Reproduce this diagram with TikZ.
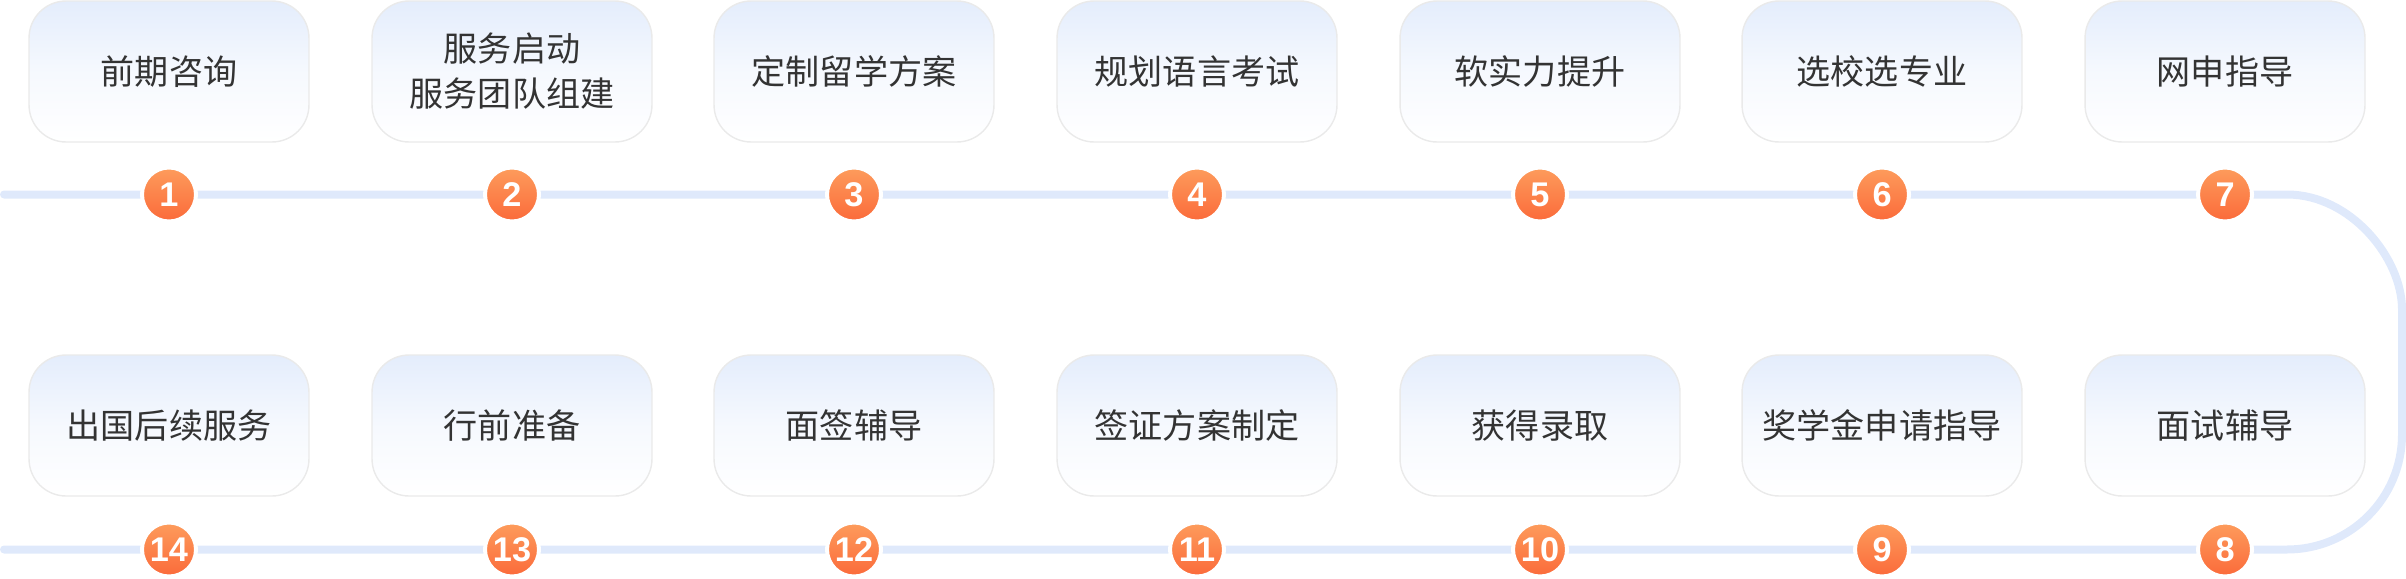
\documentclass[tikz,border=0pt]{standalone}
\usepackage{fontspec}
\setmainfont{Noto Sans CJK SC}
\newfontfamily\numfont{Liberation Sans}
\usetikzlibrary{backgrounds}

\definecolor{trackblue}{HTML}{DFE9FB}
\definecolor{boxtop}{HTML}{E4EDFC}
\definecolor{boxline}{HTML}{EAEAEA}
\definecolor{dottop}{HTML}{FD9C5C}
\definecolor{dotbottom}{HTML}{FB6A3A}
\definecolor{textgray}{HTML}{333333}

\tikzset{
	stepbox/.style={rounded corners=0.74cm, draw=boxline, line width=0.8pt,
		top color=boxtop, bottom color=white, middle color=boxtop!35,
		minimum width=5.6cm, minimum height=2.82cm, align=center,
		text=textgray, font=\fontsize{19.4}{25.6}\selectfont},
	stepnum/.style={circle, minimum size=1.08cm, inner sep=0pt, draw=white,
		line width=0.08cm, top color=dottop, bottom color=dotbottom,
		text=white, font=\numfont\bfseries\fontsize{19.5}{19.5}\selectfont},
	track/.style={draw=trackblue, line width=0.16cm, line cap=round}
}

\begin{document}
\begin{tikzpicture}[x=0.02cm, y=-0.02cm]
	\useasboundingbox (0,0) rectangle (2406,578);
	% top row
	\node[stepbox] (b1) at (169,71.5) {前期咨询};
	\node[stepbox] (b2) at (512,71.5) {服务启动\\服务团队组建};
	\node[stepbox] (b3) at (854,71.5) {定制留学方案};
	\node[stepbox] (b4) at (1197,71.5) {规划语言考试};
	\node[stepbox] (b5) at (1540,71.5) {软实力提升};
	\node[stepbox] (b6) at (1882,71.5) {选校选专业};
	\node[stepbox] (b7) at (2225,71.5) {网申指导};
	\node[stepnum] (n1) at (169,194.5) {1};
	\node[stepnum] (n2) at (512,194.5) {2};
	\node[stepnum] (n3) at (854,194.5) {3};
	\node[stepnum] (n4) at (1197,194.5) {4};
	\node[stepnum] (n5) at (1540,194.5) {5};
	\node[stepnum] (n6) at (1882,194.5) {6};
	\node[stepnum] (n7) at (2225,194.5) {7};
	% bottom row
	\node[stepbox] (b8) at (2225,425.5) {面试辅导};
	\node[stepbox] (b9) at (1882,425.5) {奖学金申请指导};
	\node[stepbox] (b10) at (1540,425.5) {获得录取};
	\node[stepbox] (b11) at (1197,425.5) {签证方案制定};
	\node[stepbox] (b12) at (854,425.5) {面签辅导};
	\node[stepbox] (b13) at (512,425.5) {行前准备};
	\node[stepbox] (b14) at (169,425.5) {出国后续服务};
	\node[stepnum] (n8) at (2225,549.5) {8};
	\node[stepnum] (n9) at (1882,549.5) {9};
	\node[stepnum] (n10) at (1540,549.5) {10};
	\node[stepnum] (n11) at (1197,549.5) {11};
	\node[stepnum] (n12) at (854,549.5) {12};
	\node[stepnum] (n13) at (512,549.5) {13};
	\node[stepnum] (n14) at (169,549.5) {14};
	% track behind the numbers
	\coordinate (s1) at (4,194.5);
	\coordinate (s2) at (4,549.5);
	\begin{scope}[on background layer]
		\draw[track] (s1) -- (n7.center) -- (2287,194.5)
			.. controls (2350.5,194.5) and (2402,258) .. (2402,309.5)
			-- (2402,434.5)
			.. controls (2402,498) and (2350.5,549.5) .. (2287,549.5)
			-- (n8.center) -- (s2);
	\end{scope}
\end{tikzpicture}
\end{document}
